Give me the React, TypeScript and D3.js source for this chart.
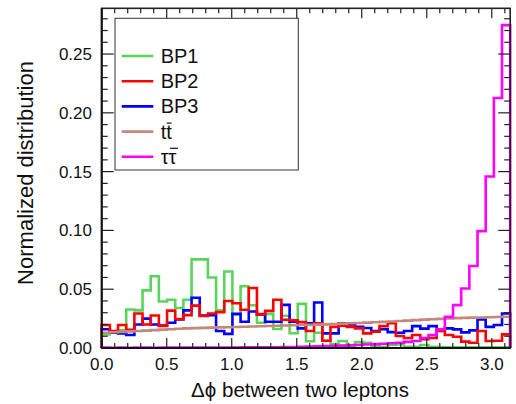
import React from "react";
import * as d3 from "d3";

// ---- data (50 bins over 0..π) ----
const xTickLabels = ["0.0", "0.5", "1.0", "1.5", "2.0", "2.5", "3.0"];
const yTickLabels = ["0.00", "0.05", "0.10", "0.15", "0.20", "0.25"];

const bp1 = [
  0.0115, 0.013, 0.015, 0.0328, 0.032, 0.049, 0.061, 0.0395, 0.041, 0.034,
  0.041, 0.0754, 0.0754, 0.06, 0.032, 0.065, 0.0285, 0.0525, 0.0364, 0.0215,
  0.029, 0.0162, 0.0274, 0.0125, 0.0375, 0.0058, 0.013, 0.0062, 0.0034, 0.006,
  0.0015, 0.005, 0.0045, 0.0015, 0.001, 0.0025, 0.003, 0.001, 0.001, 0.0025,
  0.001, 0.0008, 0.0005, 0.0005, 0.0005, 0.0005, 0.0005, 0.0005, 0.0005, 0.0005,
];
const bp2 = [
  0.0195, 0.0144, 0.0195, 0.0155, 0.0294, 0.02, 0.0277, 0.0188, 0.0318, 0.0246,
  0.028, 0.036, 0.0272, 0.0294, 0.0305, 0.04, 0.038, 0.0325, 0.051, 0.0288,
  0.0316, 0.041, 0.024, 0.0235, 0.022, 0.0145, 0.021, 0.0062, 0.018, 0.019,
  0.018, 0.0167, 0.0124, 0.0138, 0.0186, 0.021, 0.0102, 0.0085, 0.011, 0.0075,
  0.0085, 0.0147, 0.011, 0.0096, 0.0054, 0.0045, 0.0144, 0.006, 0.0062, 0.0116,
];
const bp3 = [
  0.016, 0.013, 0.0124, 0.011, 0.02, 0.025, 0.02, 0.019, 0.0215, 0.0243,
  0.032, 0.0427, 0.0275, 0.028, 0.0144, 0.012, 0.029, 0.0223, 0.031, 0.0285,
  0.0223, 0.0223, 0.0367, 0.0223, 0.0167, 0.021, 0.0387, 0.0124, 0.0124, 0.021,
  0.02, 0.018, 0.017, 0.0145, 0.016, 0.0135, 0.013, 0.0144, 0.0186, 0.0165,
  0.0186, 0.0144, 0.0167, 0.0158, 0.0133, 0.015, 0.0243, 0.018, 0.0195, 0.0294,
];
const ttbar = [
  0.013, 0.0134, 0.0137, 0.0141, 0.0144, 0.0148, 0.0152, 0.0156, 0.016, 0.0164,
  0.0167, 0.0169, 0.0171, 0.0173, 0.0175, 0.0177, 0.0179, 0.0181, 0.0183, 0.0185,
  0.0187, 0.0189, 0.0191, 0.0193, 0.0195, 0.0197, 0.0199, 0.0201, 0.0204, 0.0207,
  0.021, 0.0213, 0.0216, 0.0219, 0.0222, 0.0225, 0.0229, 0.0233, 0.0237, 0.0241,
  0.0245, 0.0248, 0.0251, 0.0254, 0.0256, 0.0258, 0.026, 0.0262, 0.0264, 0.0266,
];
const tautau = [
  0.0003, 0.0002, 0.0003, 0.0002, 0.0003, 0.0003, 0.0002, 0.0003, 0.0003, 0.0003,
  0.0003, 0.0004, 0.0003, 0.0004, 0.0004, 0.0004, 0.0004, 0.0005, 0.0005, 0.0005,
  0.0005, 0.0006, 0.0008, 0.0009, 0.001, 0.0012, 0.0014, 0.0016, 0.0018, 0.002,
  0.0023, 0.0026, 0.003, 0.0033, 0.0036, 0.004, 0.0045, 0.0052, 0.006, 0.0085,
  0.011, 0.016, 0.0265, 0.0365, 0.0506, 0.0698, 0.0994, 0.1458, 0.2126, 0.2746,
];

const seriesNames = ["BP1", "BP2", "BP3", "tt", "ττ"];
const seriesColors = ["#5ad45a", "#ff0000", "#0000ff", "#c4877c", "#ff00ff"];
const seriesData = [bp1, bp2, bp3, ttbar, tautau];
const drawOrder = [0, 2, 1, 3, 4];

const W = 516;
const H = 404;
const PL = 101.7;
const PR = 510.2;
const PT = 8.3;
const PB = 348;
const FONT = "'Liberation Sans', Arial, Helvetica, sans-serif";

export default function App() {
  const nb = 50;
  const xMax = Math.PI;
  const x = d3.scaleLinear().domain([0, xMax]).range([PL, PR]);
  const y = d3.scaleLinear().domain([0, 0.2889]).range([PB, PT]);
  const edge = (i: number) => (i * xMax) / nb;

  const line = d3.line<[number, number]>().x((d) => d[0]).y((d) => d[1]);
  const pathFor = (vals: number[]) => {
    const pts: [number, number][] = [[x(0), y(0)]];
    vals.forEach((v, i) => {
      pts.push([x(edge(i)), y(v)]);
      pts.push([x(edge(i + 1)), y(v)]);
    });
    pts.push([x(xMax), y(0)]);
    return line(pts) || "";
  };

  const xMajor = d3.range(0, 7).map((i) => i * 0.5);
  const xMinor = d3.range(0, 32).map((i) => i * 0.1).filter((v) => v <= xMax);
  const yMajor = d3.range(0, 6).map((i) => i * 0.05);
  const yMinor = d3.range(0, 29).map((i) => i * 0.01);

  const legX0 = 121.7;
  const legX1 = 153.3;
  const legY0 = 56;
  const legDy = 25.2;

  return (
    <svg
      width={W}
      height={H}
      style={{ position: "absolute", left: 0, top: 0, background: "#fff" }}
    >
      <defs>
        <clipPath id="plotclip">
          <rect x={PL - 2} y={PT} width={PR - PL + 4} height={PB - PT + 2} />
        </clipPath>
      </defs>
      <rect x={0} y={0} width={W} height={H} fill="#fff" />
      <g clipPath="url(#plotclip)">
        {drawOrder.map((si) => (
          <path
            key={si}
            d={pathFor(seriesData[si])}
            fill="none"
            stroke={seriesColors[si]}
            strokeWidth={2.6}
            strokeLinejoin="miter"
          />
        ))}
      </g>
      {/* ticks */}
      <g stroke="#222" strokeWidth={1.2}>
        {xMinor.map((v, i) => {
          const isMajor = Math.abs(v * 2 - Math.round(v * 2)) < 1e-6;
          const len = isMajor ? 10 : 5;
          return (
            <g key={"xt" + i}>
              <line x1={x(v)} x2={x(v)} y1={PB} y2={PB - len} />
              <line x1={x(v)} x2={x(v)} y1={PT} y2={PT + len} />
            </g>
          );
        })}
        {yMinor.map((v, i) => {
          const isMajor = i % 5 === 0;
          const len = isMajor ? 12 : 6;
          return (
            <g key={"yt" + i}>
              <line x1={PL} x2={PL + len} y1={y(v)} y2={y(v)} />
              <line x1={PR} x2={PR - len} y1={y(v)} y2={y(v)} />
            </g>
          );
        })}
      </g>
      {/* frame */}
      <rect
        x={PL}
        y={PT}
        width={PR - PL}
        height={PB - PT}
        fill="none"
        stroke="#222"
        strokeWidth={1.6}
      />
      <line x1={PL} x2={PL} y1={PT} y2={PB} stroke="#111" strokeWidth={2} />
      <line x1={PL} x2={PR} y1={PB} y2={PB} stroke="#111" strokeWidth={2} />
      {/* tick labels */}
      <g fontFamily={FONT} fontSize={17} fill="#111">
        {xMajor.map((v, i) => (
          <text key={"xl" + i} x={x(v)} y={370} textAnchor="middle">
            {xTickLabels[i]}
          </text>
        ))}
        {yMajor.map((v, i) => (
          <text key={"yl" + i} x={92} y={y(v) + 6} textAnchor="end">
            {yTickLabels[i]}
          </text>
        ))}
      </g>
      {/* axis titles */}
      <text
        x={300}
        y={397}
        textAnchor="middle"
        fontFamily={FONT}
        fontSize={20.5}
        fill="#111"
      >
        Δϕ between two leptons
      </text>
      <text
        transform="translate(32.5,173) rotate(-90)"
        textAnchor="middle"
        fontFamily={FONT}
        fontSize={22}
        fill="#111"
      >
        Normalized distribution
      </text>
      {/* legend */}
      <rect
        x={115}
        y={18.3}
        width={183.3}
        height={151.7}
        fill="#fff"
        stroke="#333"
        strokeWidth={1}
      />
      {seriesNames.map((name, i) => {
        const ly = legY0 + i * legDy;
        const isBar = i >= 3;
        const fs = 20;
        const tx = 160.7;
        const cw = name === "tt" ? fs * 0.278 : fs * 0.44;
        return (
          <g key={"lg" + i}>
            <line
              x1={legX0}
              x2={legX1}
              y1={ly}
              y2={ly}
              stroke={seriesColors[i]}
              strokeWidth={2.6}
            />
            <text
              x={tx}
              y={ly + 7}
              fontFamily={FONT}
              fontSize={fs}
              fill="#111"
            >
              {name}
            </text>
            {isBar && (
              <line
                x1={tx + cw + 0.5}
                x2={tx + 2 * cw - 0.3}
                y1={ly - 8.5}
                y2={ly - 8.5}
                stroke="#111"
                strokeWidth={1.2}
              />
            )}
          </g>
        );
      })}
    </svg>
  );
}
